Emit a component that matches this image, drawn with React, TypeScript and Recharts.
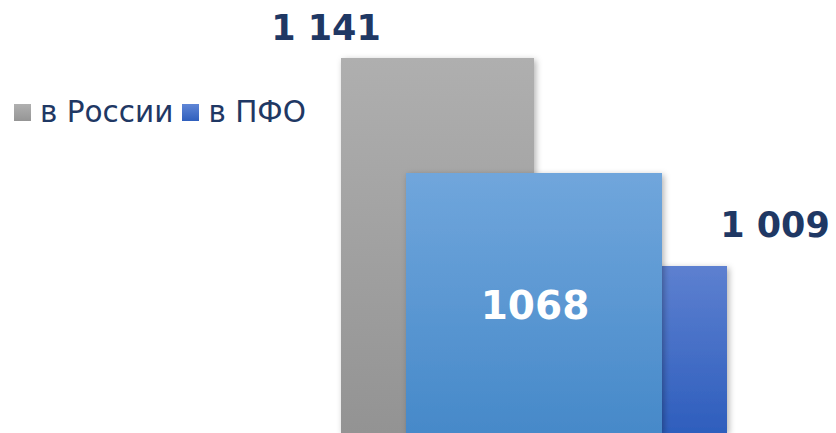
import React from 'react';
import { BarChart, Bar, XAxis, YAxis, Legend, LabelList } from 'recharts';

const categories = ['2019'];
const seriesNames = ['в России', 'в ПФО'];
const russiaValues = [1141];
const pfoValues = [1009];
const overlayValues = [1068];

const data = categories.map((c, i) => ({
  cat: c,
  russia: russiaValues[i],
  pfo: pfoValues[i],
  overlay: overlayValues[i],
}));

const fmt = (v: number) => String(v).replace(/\B(?=(\d{3})+(?!\d))/g, ' ');
const NAVY = '#1f3864';
const FONT = '"DejaVu Sans", Verdana, sans-serif';

const RussiaLabel = (props: any) => {
  const { x, y, value } = props;
  return (
    <text x={x - 15} y={y - 18} textAnchor="middle" fill={NAVY} fontFamily={FONT} fontWeight="bold" fontSize={35}>
      {fmt(value)}
    </text>
  );
};

const PfoLabel = (props: any) => {
  const { x, y, width, value } = props;
  return (
    <text x={x + width + 48} y={y - 29} textAnchor="middle" fill={NAVY} fontFamily={FONT} fontWeight="bold" fontSize={35}>
      {fmt(value)}
    </text>
  );
};

const OverlayLabel = (props: any) => {
  const { x, y, width, value } = props;
  return (
    <text x={x + width / 2 + 1} y={y + 146} textAnchor="middle" fill="#ffffff" fontFamily={FONT} fontWeight="bold" fontSize={39}>
      {String(value)}
    </text>
  );
};

const legendColors = ['url(#gGray)', 'url(#gDark)'];
const legendSwatch = ['linear-gradient(#b0b0b0,#959595)', 'linear-gradient(#5f86d6,#2f5fbd)'];

const LegendContent = () => (
  <div style={{ display: 'flex', alignItems: 'center', fontFamily: FONT, fontSize: 29.5, color: NAVY, whiteSpace: 'nowrap' }}>
    {seriesNames.map((n, i) => (
      <div key={n} style={{ display: 'flex', alignItems: 'center', marginRight: 9 }}>
        <div style={{ width: 17, height: 17, background: legendSwatch[i], marginRight: 9 }} />
        <span>{n}</span>
      </div>
    ))}
  </div>
);

export default function App() {
  return (
    <div style={{ position: 'absolute', left: 0, top: 0, width: 836, height: 433, background: '#fff', overflow: 'hidden' }}>
      <BarChart
        width={836}
        height={433}
        data={data}
        margin={{ top: 0, right: 0, bottom: 0, left: 232 }}
        barGap={0}
      >
        <defs>
          <linearGradient id="gGray" x1="0" y1="0" x2="0" y2="1">
            <stop offset="0%" stopColor="#afafaf" />
            <stop offset="100%" stopColor="#939393" />
          </linearGradient>
          <linearGradient id="gDark" x1="0" y1="0" x2="0" y2="1">
            <stop offset="0%" stopColor="#5d80d0" />
            <stop offset="100%" stopColor="#2e5ebd" />
          </linearGradient>
          <linearGradient id="gLight" x1="0" y1="0" x2="0" y2="1">
            <stop offset="0%" stopColor="#70a6dc" />
            <stop offset="100%" stopColor="#4689c9" />
          </linearGradient>
          <filter id="shadow" x="-10%" y="-10%" width="120%" height="120%">
            <feDropShadow dx="2" dy="2" stdDeviation="3" floodColor="#000" floodOpacity="0.3" />
          </filter>
        </defs>
        <XAxis xAxisId="main" dataKey="cat" hide />
        <XAxis xAxisId="over" dataKey="cat" hide />
        <YAxis hide domain={[903, 1177.8]} allowDataOverflow />
        <Legend
          content={<LegendContent />}
          wrapperStyle={{ position: 'absolute', left: 14, top: 95, width: 0, height: 0, overflow: 'visible' }}
        />
        <Bar xAxisId="main" dataKey="russia" name={seriesNames[0]} fill={legendColors[0]} barSize={193} isAnimationActive={false} style={{ filter: 'url(#shadow)' }}>
          <LabelList dataKey="russia" content={<RussiaLabel />} />
        </Bar>
        <Bar xAxisId="main" dataKey="pfo" name={seriesNames[1]} fill={legendColors[1]} barSize={193} isAnimationActive={false} style={{ filter: 'url(#shadow)' }}>
          <LabelList dataKey="pfo" content={<PfoLabel />} />
        </Bar>
        <Bar xAxisId="over" dataKey="overlay" fill="url(#gLight)" barSize={256} isAnimationActive={false} legendType="none" style={{ filter: 'url(#shadow)' }}>
          <LabelList dataKey="overlay" content={<OverlayLabel />} />
        </Bar>
      </BarChart>
    </div>
  );
}
